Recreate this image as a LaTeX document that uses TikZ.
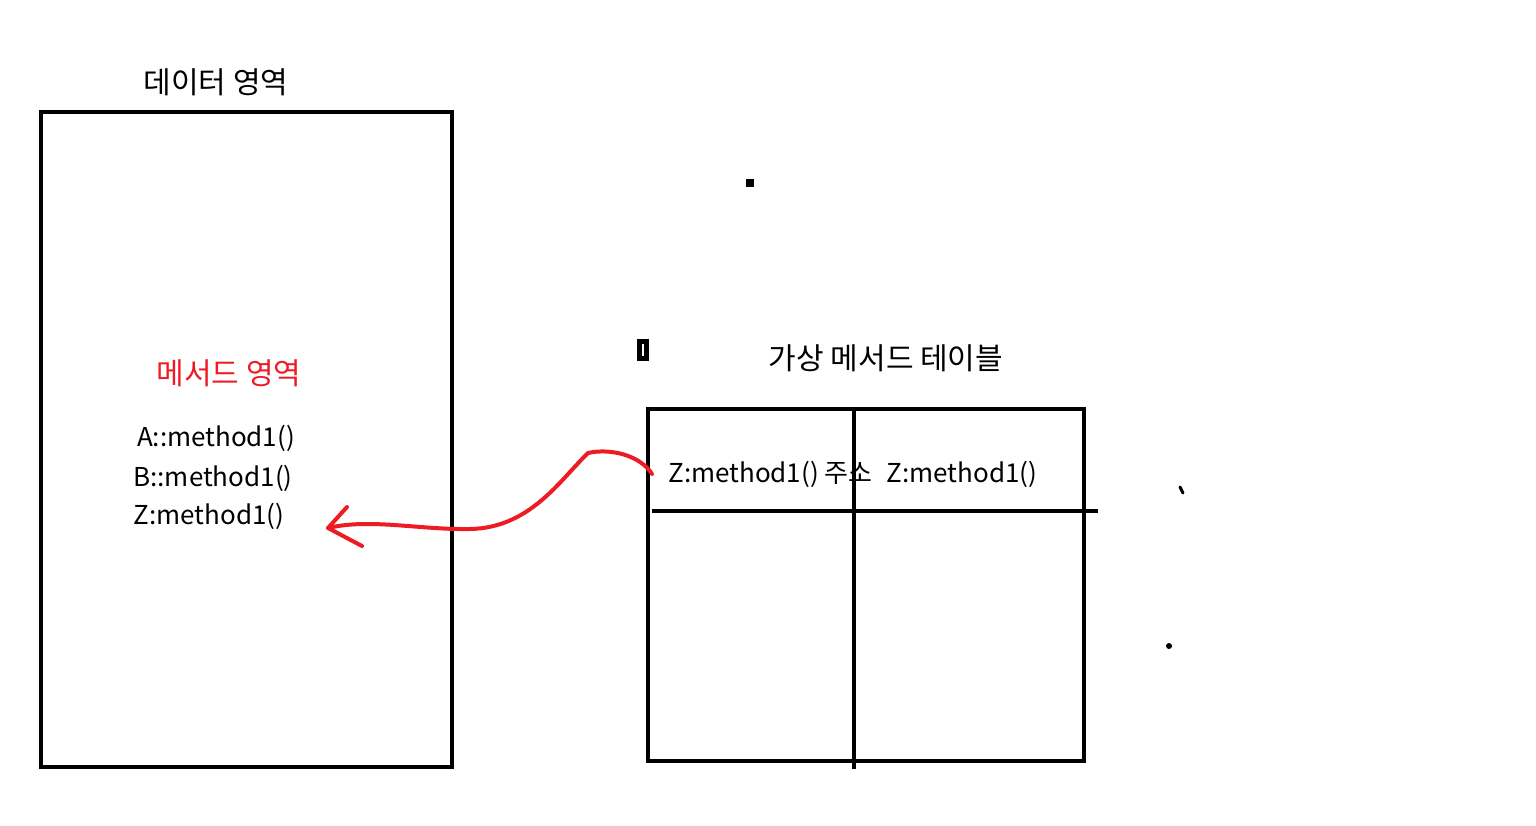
\documentclass[tikz,border=0pt]{standalone}
\usepackage{fontspec}
\setmainfont{Noto Sans CJK KR}
\definecolor{penred}{RGB}{237,28,36}
\begin{document}
\begin{tikzpicture}[x=0.5pt,y=-0.5pt,
    box/.style={draw,line width=2pt},
    headtext/.style={inner sep=0pt,font=\fontsize{15}{17}\selectfont},
    itemtext/.style={inner sep=0pt,font=\fontsize{13}{15}\selectfont},
    redpen/.style={draw=penred,line width=2pt,line cap=round,line join=round}]
    \useasboundingbox (0,0) rectangle (1536,825);

    %NODE
    \node[box,minimum width=205.5pt,minimum height=327.5pt] (dataarea) at (246.5,439.5) {};
    \node[headtext] (datatitle) at (216,82) {데이터 영역};
    \node[headtext,text=penred] (methodtitle) at (229,373) {메서드 영역};
    \node[itemtext] (aitem) at (216,438) {A::method1()};
    \node[itemtext] (bitem) at (213,478) {B::method1()};
    \node[itemtext] (zitem) at (209,516) {Z:method1()};

    \node[box,minimum width=218pt,minimum height=176pt] (vtable) at (866,585) {};
    \node[headtext] (vtitle) at (886,358) {가상 메서드 테이블};
    \node[itemtext,anchor=west] (slot) at (668,474) {Z:method1() 주소\hspace{7pt}Z:method1()};
    \draw[box] (854,409) -- (854,769);
    \draw[box] (652,511) -- (1098,511);

    %EDGE
    \coordinate (tail) at ([xshift=-8pt]slot.west);
    \coordinate (tip) at (328,528);
    \draw[redpen] (tail) .. controls (640,455) and (610,448) .. (588,453)
        .. controls (560,480) and (530,528) .. (470,529)
        .. controls (420,530) and (370,518) .. (tip);
    \draw[redpen] (347,507) -- (tip) -- (362,546);

    %MARKS
    \fill (746,179) rectangle (754,187);
    \fill (637,339) rectangle (649,361);
    \fill[white] (642,344) rectangle (644,356);
    \draw[line width=1.5pt,line cap=round] (1180,487) -- (1183,493);
    \fill (1169,646) circle (1.5pt);
\end{tikzpicture}
\end{document}
